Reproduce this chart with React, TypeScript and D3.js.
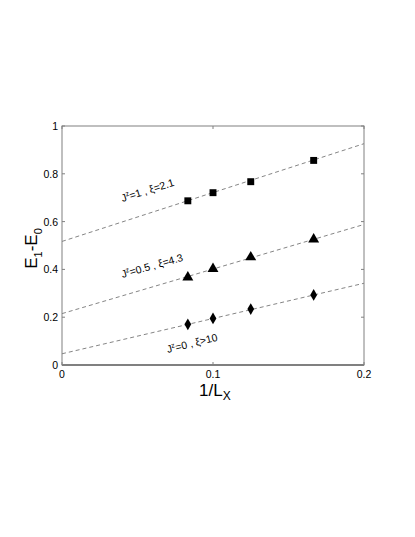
import React, { useEffect, useRef } from 'react';
import * as d3 from 'd3';

// 1/Lx for Lx = 12, 10, 8, 6
const xValues = [1 / 12, 1 / 10, 1 / 8, 1 / 6];
const squareValues = [0.687, 0.721, 0.767, 0.856];
const triangleValues = [0.367, 0.402, 0.451, 0.526];
const diamondValues = [0.17, 0.195, 0.234, 0.293];

// fitted lines: value at 1/Lx = 0 and at 1/Lx = 0.2
const fitStart = [0.517, 0.215, 0.047];
const fitEnd = [0.926, 0.588, 0.342];

const xTicks = [0, 0.1, 0.2];
const yTicks = [0, 0.2, 0.4, 0.6, 0.8, 1];
const yTickLabels = ['0', '0.2', '0.4', '0.6', '0.8', '1'];

const labelMain = ['=1 , ξ=2.1', '=0.5 , ξ=4.3', '=0 , ξ>10'];
const labelX = [0.04, 0.04, 0.07];
const labelY = [0.682, 0.364, 0.05];

const App = () => {
  const ref = useRef(null);

  useEffect(() => {
    const width = 415;
    const height = 537;
    const left = 62;
    const right = 364;
    const top = 126;
    const bottom = 365;
    const font = 'Liberation Sans, Arial, sans-serif';

    d3.select(ref.current).selectAll('*').remove();

    const svg = d3
      .select(ref.current)
      .append('svg')
      .attr('width', width)
      .attr('height', height)
      .style('position', 'absolute')
      .style('left', 0)
      .style('top', 0)
      .style('background', '#fff');

    const x = d3.scaleLinear().domain([0, 0.2]).range([left, right]);
    const y = d3.scaleLinear().domain([0, 1]).range([bottom, top]);

    // fit lines
    fitStart.forEach((s, i) => {
      svg
        .append('line')
        .attr('x1', x(0))
        .attr('y1', y(s))
        .attr('x2', x(0.2))
        .attr('y2', y(fitEnd[i]))
        .attr('stroke', '#666')
        .attr('stroke-width', 0.8)
        .attr('stroke-dasharray', '4,3');
    });

    // box and ticks
    const axisColor = '#808080';
    svg
      .append('rect')
      .attr('x', left)
      .attr('y', top)
      .attr('width', right - left)
      .attr('height', bottom - top)
      .attr('fill', 'none')
      .attr('stroke', axisColor)
      .attr('stroke-width', 1);
    svg
      .append('line')
      .attr('x1', left)
      .attr('x2', right)
      .attr('y1', bottom)
      .attr('y2', bottom)
      .attr('stroke', axisColor)
      .attr('stroke-width', 2);

    xTicks.forEach((t) => {
      svg.append('line').attr('x1', x(t)).attr('x2', x(t)).attr('y1', bottom).attr('y2', bottom - 3).attr('stroke', axisColor);
      svg.append('line').attr('x1', x(t)).attr('x2', x(t)).attr('y1', top).attr('y2', top + 3).attr('stroke', axisColor);
      svg
        .append('text')
        .attr('x', x(t))
        .attr('y', bottom + 13)
        .attr('text-anchor', 'middle')
        .attr('font-family', font)
        .attr('font-size', 10.5)
        .text(String(t));
    });

    yTicks.forEach((t, i) => {
      svg.append('line').attr('x1', left).attr('x2', left + 3).attr('y1', y(t)).attr('y2', y(t)).attr('stroke', axisColor);
      svg.append('line').attr('x1', right).attr('x2', right - 3).attr('y1', y(t)).attr('y2', y(t)).attr('stroke', axisColor);
      svg
        .append('text')
        .attr('x', left - 4)
        .attr('y', y(t) + 4)
        .attr('text-anchor', 'end')
        .attr('font-family', font)
        .attr('font-size', 10.5)
        .text(yTickLabels[i]);
    });

    // markers
    const sym = [d3.symbolSquare, d3.symbolTriangle, d3.symbolDiamond];
    const sizes = [48, 52, 40];
    [squareValues, triangleValues, diamondValues].forEach((vals, k) => {
      svg
        .selectAll(null)
        .data(vals)
        .enter()
        .append('path')
        .attr('d', d3.symbol().type(sym[k]).size(sizes[k]))
        .attr('transform', (d, i) => `translate(${x(xValues[i])},${y(d)})`)
        .attr('fill', '#000');
    });

    // series labels
    const angles = [-17.5, -15.8, -14];
    labelMain.forEach((txt, i) => {
      const t = svg
        .append('text')
        .attr('transform', `translate(${x(labelX[i])},${y(labelY[i])}) rotate(${angles[i]})`)
        .attr('font-family', font)
        .attr('font-size', 10.5);
      t.append('tspan').text('J');
      t.append('tspan').attr('font-size', 7).attr('dy', -4).text('z');
      t.append('tspan').attr('dy', 4).text(txt);
    });

    // axis labels
    const xl = svg
      .append('text')
      .attr('x', 199)
      .attr('y', 396)
      .attr('font-family', font)
      .attr('font-size', 17);
    xl.append('tspan').text('1/L');
    xl.append('tspan').attr('font-size', 12).attr('dy', 4).text('X');

    const yl = svg
      .append('text')
      .attr('transform', `translate(37,${(top + bottom) / 2 + 3}) rotate(-90)`)
      .attr('text-anchor', 'middle')
      .attr('font-family', font)
      .attr('font-size', 17);
    yl.append('tspan').text('E');
    yl.append('tspan').attr('font-size', 11).attr('dy', 5).text('1');
    yl.append('tspan').attr('dy', -5).text('-E');
    yl.append('tspan').attr('font-size', 11).attr('dy', 5).text('0');
  }, []);

  return <div ref={ref}></div>;
};

export default App;
